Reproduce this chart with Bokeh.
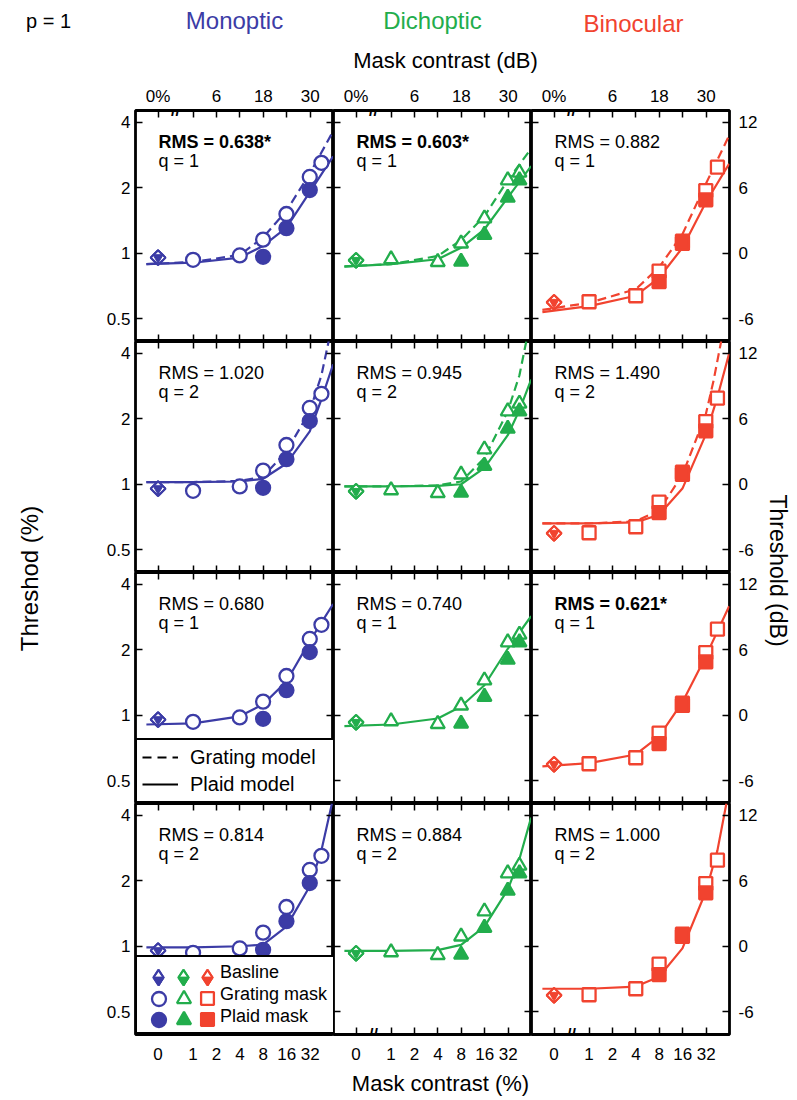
import math
from bokeh.plotting import figure
from bokeh.models import Range1d, LinearAxis, FixedTicker, Label, Legend, LegendItem
from bokeh.layouts import row, column
from bokeh.embed import file_html
from bokeh.resources import INLINE
from bokeh.core.properties import value

FONT = "Liberation Sans"
BLUE, GREEN, RED = "#3c3ca6", "#22ad4c", "#f1432f"

# ---------------- data ----------------
conditions = ["Monoptic", "Dichoptic", "Binocular"]
cond_colors = [BLUE, GREEN, RED]
grating_markers = ["circle", "triangle", "square"]
marker_sizes = [14, 14, 13]
row_label_lines = [["RMS", "contrast"], ["Energy"], ["Linear", "sup"], ["Linear", "sup (sq)"]]
rms_values = [["0.638*", "0.603*", "0.882"],
              ["1.020", "0.945", "1.490"],
              ["0.680", "0.740", "0.621*"],
              ["0.814", "0.884", "1.000"]]
best_fit = [[True, True, False], [False, False, False], [False, False, True], [False, False, False]]
q_values = [1, 2, 1, 2]

# x axis: mask contrast in dB (re 1%); the 0% mask is drawn at a broken-axis position
mask_pct_ticks = [1, 2, 4, 8, 16, 32]
zero_mask_pos = -9.0
bottom_tick_labels = ["0", "1", "2", "4", "8", "16", "32"]
top_tick_labels = ["0%", "", "6", "", "18", "", "30"]
thr_pct_ticks = [0.5, 1, 2, 4]
thr_pct_labels = ["0.5", "1", "2", "4"]
thr_db_ticks = [-6, 0, 6, 12]
thr_db_labels = ["-6", "0", "6", "12"]

# thresholds in dB (re 1%), same data in every row
baseline_thr = [-0.4, -0.65, -4.5]
grating_mask = [0, 12, 18, 24, 30, 33]
grating_thr = [[-0.6, -0.2, 1.25, 3.6, 7.0, 8.3],
               [-0.55, -0.8, 0.9, 3.2, 6.7, 7.4],
               [-4.45, -3.9, -1.65, 1.1, 5.75, 7.9]]
plaid_mask = [[18, 24, 30], [18, 24, 30, 33], [18, 24, 30]]
plaid_thr = [[-0.33, 2.3, 5.8], [-0.77, 1.7, 5.1, 6.7], [-2.6, 0.9, 4.9]]

# model curves, per row / column
grating_model_x = [
    [[-12, 0, 12, 18, 24, 30, 36], [-12, 0, 12, 18, 24, 30, 36], [-12, 0, 12, 18, 24, 30, 36]],
    [[-12, 0, 12, 18, 24, 30, 33, 34.9], [-12, 0, 12, 18, 24, 30, 33, 34.8],
     [-12, 0, 12, 18, 24, 30, 32, 34.0]],
    None, None]
grating_model_y = [
    [[-1.0, -0.8, -0.16, 1.44, 3.9, 7.3, 11.2], [-1.2, -1.0, -0.25, 1.2, 3.4, 6.7, 9.6],
     [-5.2, -4.55, -3.3, -1.3, 1.75, 6.35, 10.8]],
    [[0.2, 0.2, 0.3, 0.7, 3.0, 6.7, 10.0, 13.2], [-0.2, -0.2, -0.1, 0.25, 2.4, 6.7, 10.0, 13.2],
     [-3.6, -3.6, -3.4, -2.4, 0.86, 6.4, 9.5, 13.2]],
    None, None]
plaid_model_x = [
    [[-12, 0, 12, 18, 24, 30, 36]] * 3,
    [[-12, 0, 12, 18, 24, 30, 33, 36], [-12, 0, 12, 18, 24, 30, 33, 36],
     [-12, 0, 12, 18, 24, 30, 33, 36]],
    [[-12, 0, 12, 18, 24, 30, 36]] * 3,
    [[-12, 0, 12, 18, 24, 30, 33, 35.7], [-12, 0, 12, 18, 24, 30, 33, 36], [-12, 0, 12, 18, 24, 30, 33, 35.3]]]
plaid_model_y = [
    [[-1.0, -0.87, -0.4, 0.67, 2.36, 5.6, 8.9], [-1.23, -1.0, -0.55, 0.5, 2.2, 5.1, 8.0],
     [-5.4, -4.85, -3.9, -2.25, 0.5, 4.66, 8.2]],
    [[0.2, 0.2, 0.25, 0.5, 1.9, 4.85, 7.8, 11.0], [-0.2, -0.2, -0.15, 0.0, 1.5, 4.5, 6.8, 9.6],
     [-3.6, -3.6, -3.5, -2.8, -0.4, 4.55, 8.0, 12.0]],
    [[-0.85, -0.75, -0.1, 1.0, 3.1, 6.8, 10.2], [-1.0, -0.85, -0.3, 0.8, 2.75, 6.1, 9.1],
     [-4.7, -4.4, -3.6, -1.95, 1.2, 5.4, 10.0]],
    [[-0.1, -0.1, 0.0, 0.15, 1.8, 5.5, 8.8, 13.1], [-0.43, -0.43, -0.35, 0.13, 1.8, 5.2, 8.0, 11.8],
     [-3.9, -3.9, -3.7, -2.8, -0.2, 5.0, 8.8, 13.1]]]

# ---------------- layout constants ----------------
FW, FH = 198, 231
XR = (-14.8, 36.1)
YR = (-8.1, 13.1)
LB, RB, TB, BB = 90, 34, 30, 36
LEFT_W, RIGHT_W, TOP_H, BOT_H = 45, 30, 80, 30
GRID_H = TB + 4 * FH + BB
TOTAL_W = LEFT_W + (LB + FW) + FW + (FW + RB) + RIGHT_W
FRAME_LW = 2.8

x_ticks = [zero_mask_pos] + [20 * math.log10(c) for c in mask_pct_ticks]
y_pct_pos = [20 * math.log10(v) for v in thr_pct_ticks]
y_db_pos = [float(v) for v in thr_db_ticks]


def tick_axis(ticks, labels, show, standoff):
    return LinearAxis(
        ticker=FixedTicker(ticks=ticks),
        major_label_overrides={t: l for t, l in zip(ticks, labels)},
        major_tick_in=7, major_tick_out=0, minor_tick_in=0, minor_tick_out=0,
        axis_line_color=None, major_tick_line_color="black", major_tick_line_width=1.5,
        major_label_standoff=standoff, major_label_text_font=FONT,
        major_label_text_font_size="17px",
        major_label_text_color="black" if show else None)


def baseline_glyphs(p, x, y, color):
    p.scatter(x, y, marker="square", angle=math.pi / 4, size=10.5,
              fill_color="white", line_color=color, line_width=2)
    p.scatter(x, y, marker="inverted_triangle", size=10,
              fill_color=color, line_color=color, line_width=1)
    p.scatter(x, y, marker="square", angle=math.pi / 4, size=10.5,
              fill_color=None, line_color=color, line_width=2)


def make_panel(r, c):
    color = cond_colors[c]
    p = figure(frame_width=FW, frame_height=FH, x_range=Range1d(*XR), y_range=Range1d(*YR),
               x_axis_location=None, y_axis_location=None, toolbar_location=None,
               output_backend="svg", title=None, min_border=0,
               min_border_left=LB if c == 0 else 0, min_border_right=RB if c == 2 else 0,
               min_border_top=TB if r == 0 else 0, min_border_bottom=BB if r == 3 else 0)
    p.grid.visible = False
    p.outline_line_color = "black"
    p.outline_line_width = FRAME_LW
    p.background_fill_color = "white"
    p.border_fill_color = "white"

    p.add_layout(tick_axis(x_ticks, top_tick_labels, r == 0, 5), "above")
    p.add_layout(tick_axis(x_ticks, bottom_tick_labels, r == 3, 13), "below")
    p.add_layout(tick_axis(y_pct_pos, thr_pct_labels, c == 0, 5), "left")
    p.add_layout(tick_axis(y_db_pos, thr_db_labels, c == 2, 9), "right")

    # model curves
    if grating_model_x[r] is not None:
        p.line(grating_model_x[r][c], grating_model_y[r][c], line_color=color,
               line_width=2.2, line_dash="9 5")
    p.line(plaid_model_x[r][c], plaid_model_y[r][c], line_color=color, line_width=2.2)

    # data
    baseline_glyphs(p, [zero_mask_pos], [baseline_thr[c]], color)
    p.scatter(grating_mask, grating_thr[c], marker=grating_markers[c],
              size=marker_sizes[c], fill_color="white", line_color=color, line_width=2.3)
    p.scatter(plaid_mask[c], plaid_thr[c], marker=grating_markers[c],
              size=marker_sizes[c], fill_color=color, line_color=color, line_width=2.3)

    # annotations
    p.add_layout(Label(x=23, y=FH - 31, x_units="screen", y_units="screen",
                       text="RMS = " + rms_values[r][c], text_font=FONT, text_font_size="18px",
                       text_font_style="bold" if best_fit[r][c] else "normal",
                       text_baseline="middle", text_color="black"))
    p.add_layout(Label(x=23, y=FH - 50, x_units="screen", y_units="screen",
                       text="q = %d" % q_values[r], text_font=FONT, text_font_size="18px",
                       text_baseline="middle", text_color="black"))
    # axis break marks
    if r == 0:
        p.add_layout(Label(x=-4.5, y=FH, x_units="data", y_units="screen", text="//",
                           text_font=FONT, text_font_size="16px", text_font_style="bold",
                           text_align="center", text_baseline="middle", text_color="black"))
    if r == 3 and c > 0:
        p.add_layout(Label(x=-4.5, y=0, x_units="data", y_units="screen", text="//",
                           text_font=FONT, text_font_size="16px", text_font_style="bold",
                           text_align="center", text_baseline="middle", text_color="black"))
    # row labels in the left border of the first column
    if c == 0:
        ys = {0: [141, 114], 1: [118], 2: [116, 96], 3: [137, 108]}[r]
        for txt, yy in zip(row_label_lines[r], ys):
            p.add_layout(Label(x=-87, y=yy, x_units="screen", y_units="screen", text=txt,
                               text_font=FONT, text_font_size="20px", text_baseline="middle",
                               text_color="black"))
    return p


panels = [[make_panel(r, c) for c in range(3)] for r in range(4)]

# line-style legend (row 3, column 1); swatch renderers are hidden copies of the model line
p = panels[2][0]
gl = p.line(plaid_model_x[2][0], plaid_model_y[2][0], line_color="black", line_width=2,
            line_dash="9 6", visible=False)
pl = p.line(plaid_model_x[2][0], plaid_model_y[2][0], line_color="black", line_width=2,
            visible=False)
p.add_layout(Legend(items=[LegendItem(label=value("Grating model"), renderers=[gl]),
                           LegendItem(label=value("Plaid model"), renderers=[pl])],
                    location=(0, 0), margin=0, padding=5, spacing=3, glyph_width=36,
                    glyph_height=24, label_height=24, label_width=140, label_standoff=12,
                    label_text_font=FONT, label_text_font_size="20px", label_text_color="black",
                    border_line_color="black", border_line_width=FRAME_LW, border_line_alpha=1.0,
                    background_fill_color="white", background_fill_alpha=1.0))

# marker legend (row 4, column 1): a boxed legend with the labels, and one small
# legend per swatch laid over it (swatch renderers are hidden copies of each column's data)
p = panels[3][0]
legend_names = ["Basline", "Grating mask", "Plaid mask"]
inv = p.scatter([zero_mask_pos], [baseline_thr[0]], marker="circle", size=1,
                fill_alpha=0, line_alpha=0, visible=False)
p.add_layout(Legend(items=[LegendItem(label=value(n), renderers=[inv]) for n in legend_names],
                    location=(0, 0), margin=0, padding=5, spacing=1, glyph_width=76,
                    glyph_height=20, label_height=20, label_standoff=2,
                    label_width=FW - 10 - 76 - 2, label_text_font=FONT,
                    label_text_font_size="18px", label_text_color="black",
                    border_line_color="black", border_line_width=FRAME_LW, border_line_alpha=1.0,
                    background_fill_color="white", background_fill_alpha=1.0))


def swatch(p, renderer, cx, cy, g, dy=0.0):
    g = int(round(g))
    p.add_layout(Legend(items=[LegendItem(label=value(" "), renderers=[renderer])],
                        location=(cx - g / 2, cy - g / 2 - dy), margin=0, padding=0,
                        glyph_width=g, glyph_height=g, label_height=g, label_width=0,
                        label_standoff=0, label_text_font_size="1px",
                        border_line_color=None, background_fill_alpha=0.0))


item_cy = [57, 36, 15]
for c, cx in zip(range(3), [23, 48, 72]):
    color = cond_colors[c]
    bx, by = [zero_mask_pos], [baseline_thr[c]]
    d_fill = p.scatter(bx, by, marker="diamond", size=15, fill_color="white", line_color=color,
                       line_width=2, visible=False)
    d_tri = p.scatter(bx, by, marker="inverted_triangle", size=10, fill_color=color,
                      line_color=color, line_width=1, visible=False)
    d_line = p.scatter(bx, by, marker="diamond", size=15, fill_color=None, line_color=color,
                       line_width=2, visible=False)
    open_r = p.scatter(grating_mask, grating_thr[c], marker=grating_markers[c],
                       size=marker_sizes[c], fill_color="white", line_color=color,
                       line_width=2.3, visible=False)
    fill_r = p.scatter(plaid_mask[c], plaid_thr[c], marker=grating_markers[c],
                       size=marker_sizes[c], fill_color=color, line_color=color,
                       line_width=2.3, visible=False)
    swatch(p, d_fill, cx, item_cy[0], 38)
    swatch(p, d_tri, cx, item_cy[0], 25, dy=2.9)
    swatch(p, d_line, cx, item_cy[0], 38)
    swatch(p, open_r, cx, item_cy[1], marker_sizes[c] / 0.4)
    swatch(p, fill_r, cx, item_cy[2], marker_sizes[c] / 0.4)


def blank_fig(w, h):
    f = figure(width=w, height=h, x_range=Range1d(0, w), y_range=Range1d(0, h),
               x_axis_location=None, y_axis_location=None, toolbar_location=None,
               output_backend="svg", title=None, min_border=0)
    f.grid.visible = False
    f.outline_line_color = None
    return f


top = blank_fig(TOTAL_W, TOP_H)
top.add_layout(Label(x=48, y=TOP_H - 20, text="p = 1", text_font=FONT, text_font_size="20px",
                     text_align="center", text_baseline="middle", text_color="black"))
for name, xx, yy, col in zip(conditions, [234, 432, 633], [20, 20, 23], cond_colors):
    top.add_layout(Label(x=xx, y=TOP_H - yy, text=name, text_font=FONT, text_font_size="24px",
                         text_align="center", text_baseline="middle", text_color=col))
top.add_layout(Label(x=445, y=TOP_H - 60, text="Mask contrast (dB)", text_font=FONT,
                     text_font_size="22px", text_align="center", text_baseline="middle",
                     text_color="black"))

left = blank_fig(LEFT_W, GRID_H)
left.add_layout(Label(x=29, y=TOP_H + GRID_H - 578, text="Threshod (%)", angle=math.pi / 2,
                      text_font=FONT, text_font_size="24px", text_align="center",
                      text_baseline="middle", text_color="black"))
right = blank_fig(RIGHT_W, GRID_H)
right.add_layout(Label(x=14, y=TOP_H + GRID_H - 570, text="Threshold (dB)", angle=-math.pi / 2,
                       text_font=FONT, text_font_size="23px", text_align="center",
                       text_baseline="middle", text_color="black"))
bottom = blank_fig(TOTAL_W, BOT_H)
bottom.add_layout(Label(x=440, y=BOT_H - 13, text="Mask contrast (%)", text_font=FONT,
                        text_font_size="22px", text_align="center", text_baseline="middle",
                        text_color="black"))

grid = column(*[row(*rw) for rw in panels])
layout = column(top, row(left, grid, right), bottom)

open("out.html", "w").write(file_html(layout, INLINE))
